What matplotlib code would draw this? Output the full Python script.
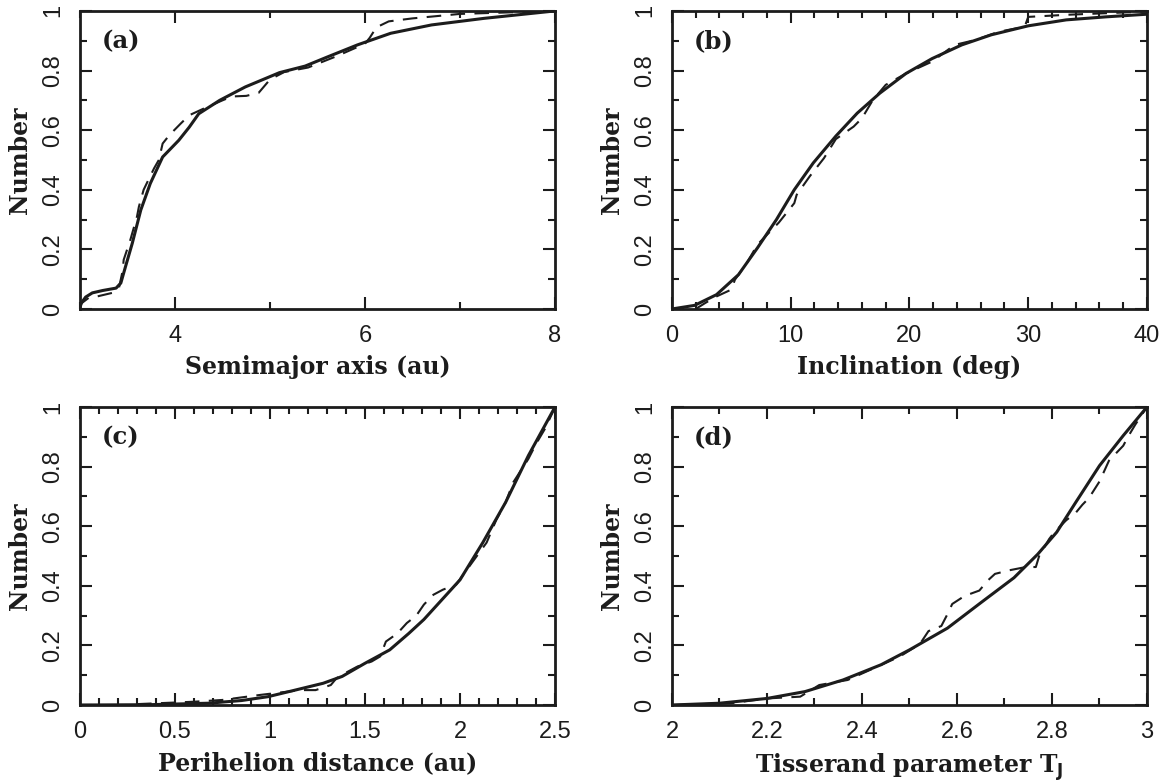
import numpy as np
import matplotlib
matplotlib.use('Agg')
import matplotlib.pyplot as plt
from matplotlib.ticker import MultipleLocator, FuncFormatter

# (a) semimajor axis
a_sol_x = [3.0, 3.06, 3.13, 3.24, 3.38, 3.43, 3.48, 3.55, 3.64, 3.74, 3.87, 3.94,
           4.04, 4.15, 4.25, 4.47, 4.74, 5.1, 5.37, 5.6, 5.92, 6.27, 6.7, 7.25, 8.0]
a_sol_y = [0.014, 0.04, 0.054, 0.062, 0.07, 0.087, 0.143, 0.22, 0.332, 0.421, 0.51, 0.533,
           0.566, 0.61, 0.655, 0.70, 0.745, 0.793, 0.815, 0.845, 0.886, 0.925, 0.953, 0.975, 1.0]
a_das_x = [3.0, 3.02, 3.09, 3.18, 3.34, 3.41, 3.45, 3.46, 3.53, 3.60, 3.62, 3.67, 3.72,
           3.78, 3.83, 3.87, 3.94, 4.06, 4.15, 4.3, 4.5, 4.6, 4.75, 4.88, 5.0, 5.15, 5.4,
           5.7, 6.0, 6.05, 6.12, 6.25, 6.5, 7.0, 8.0]
a_das_y = [0.0, 0.02, 0.037, 0.042, 0.054, 0.07, 0.13, 0.165, 0.232, 0.31, 0.343, 0.40, 0.433,
           0.472, 0.50, 0.555, 0.583, 0.622, 0.65, 0.672, 0.70, 0.713, 0.715, 0.725, 0.77, 0.795, 0.81,
           0.848, 0.89, 0.91, 0.945, 0.965, 0.975, 0.99, 1.0]

# (b) inclination
b_sol_x = [0, 1.9, 3.75, 5.6, 7.2, 8.8, 10.3, 11.9, 13.8, 15.6, 17.5, 19.7, 21.9,
           24.4, 26.9, 30, 33.2, 36.5, 40]
b_sol_y = [0, 0.012, 0.048, 0.115, 0.205, 0.30, 0.40, 0.49, 0.58, 0.657, 0.724, 0.79, 0.84,
           0.886, 0.92, 0.95, 0.97, 0.98, 0.989]
b_das_x = [2.0, 2.8, 3.75, 5.0, 5.3, 6.3, 7.2, 9.0, 10.3, 10.5, 11.6, 12.8, 13.8, 15.3, 16.0,
           16.9, 18.0, 19.7, 21.9, 23.8, 25.6, 27.5, 29.7, 30.0, 33.2, 36.3, 40]
b_das_y = [0.0, 0.02, 0.042, 0.065, 0.098, 0.154, 0.216, 0.29, 0.355, 0.383, 0.445, 0.506, 0.57,
           0.612, 0.64, 0.70, 0.752, 0.79, 0.83, 0.886, 0.903, 0.93, 0.947, 0.98, 0.987, 0.992, 0.998]

# (c) perihelion distance
c_sol_x = [0, 0.36, 0.675, 0.85, 0.99, 1.1, 1.28, 1.38, 1.5, 1.63, 1.73, 1.81, 1.89,
           2.0, 2.12, 2.24, 2.36, 2.5]
c_sol_y = [0, 0.001, 0.006, 0.015, 0.028, 0.045, 0.073, 0.096, 0.14, 0.185, 0.24, 0.287, 0.343,
           0.42, 0.545, 0.68, 0.837, 1.0]
c_das_x = [0.3, 0.6, 0.75, 0.95, 1.16, 1.24, 1.32, 1.35, 1.41, 1.46, 1.535, 1.58, 1.61, 1.67,
           1.72, 1.77, 1.81, 1.86, 1.91, 1.98, 2.02, 2.05, 2.1, 2.14, 2.19, 2.24, 2.28, 2.36,
           2.4, 2.45, 2.5]
c_das_y = [0.003, 0.011, 0.017, 0.034, 0.05, 0.05, 0.067, 0.09, 0.112, 0.129, 0.146, 0.163, 0.213,
           0.24, 0.275, 0.30, 0.337, 0.37, 0.387, 0.404, 0.44, 0.466, 0.51, 0.545, 0.62, 0.68,
           0.747, 0.826, 0.876, 0.93, 1.0]

# (d) Tisserand parameter
d_sol_x = [2.0, 2.1, 2.2, 2.28, 2.36, 2.44, 2.5, 2.58, 2.65, 2.72, 2.77, 2.81, 2.85,
           2.9, 2.95, 3.0]
d_sol_y = [0, 0.006, 0.022, 0.045, 0.084, 0.135, 0.185, 0.258, 0.343, 0.427, 0.506, 0.58,
           0.68, 0.803, 0.904, 1.0]
d_das_x = [2.0, 2.125, 2.2, 2.27, 2.31, 2.37, 2.48, 2.507, 2.52, 2.54, 2.567, 2.58, 2.59,
           2.616, 2.647, 2.665, 2.68, 2.71, 2.745, 2.766, 2.773, 2.794, 2.805, 2.83, 2.85,
           2.864, 2.878, 2.9, 2.92, 2.95, 2.96, 2.975, 3.0]
d_das_y = [0, 0.006, 0.022, 0.028, 0.067, 0.084, 0.163, 0.19, 0.2, 0.248, 0.265, 0.305, 0.339,
           0.366, 0.384, 0.418, 0.44, 0.452, 0.463, 0.463, 0.5, 0.557, 0.58, 0.62, 0.645,
           0.672, 0.695, 0.75, 0.82, 0.87, 0.90, 0.94, 1.0]

panels = [
    ('(a)', 'Semimajor axis (au)', (3, 8), 2, 1, a_sol_x, a_sol_y, a_das_x, a_das_y),
    ('(b)', 'Inclination (deg)', (0, 40), 10, 2, b_sol_x, b_sol_y, b_das_x, b_das_y),
    ('(c)', 'Perihelion distance (au)', (0, 2.5), 0.5, 0.1, c_sol_x, c_sol_y, c_das_x, c_das_y),
    ('(d)', r'Tisserand parameter T$_{\mathbf{J}}$', (2, 3), 0.2, 0.1, d_sol_x, d_sol_y, d_das_x, d_das_y),
]

boxes = [
    [0.0686, 0.6044, 0.4074, 0.3816],
    [0.5763, 0.6044, 0.4074, 0.3816],
    [0.0686, 0.0973, 0.4074, 0.3816],
    [0.5763, 0.0973, 0.4074, 0.3816],
]

ink = '#1c1c1c'
tick_font = 'Liberation Sans'
lab_font = 'DejaVu Serif'


def fmt(v, pos):
    return '%g' % round(v, 3)


fig = plt.figure(figsize=(11.66, 7.81), dpi=100)
for box, p in zip(boxes, panels):
    tag, xlabel, xlim, xmaj, xmin, sx, sy, dx, dy = p
    ax = fig.add_axes(box)
    ax.plot(sx, sy, color=ink, lw=2.2, solid_joinstyle='round')
    ax.plot(dx, dy, color=ink, lw=1.5, linestyle=(0, (7, 4.5)))
    ax.set_xlim(xlim)
    ax.set_ylim(0, 1)
    ax.xaxis.set_major_locator(MultipleLocator(xmaj))
    ax.xaxis.set_minor_locator(MultipleLocator(xmin))
    ax.yaxis.set_major_locator(MultipleLocator(0.2))
    ax.yaxis.set_minor_locator(MultipleLocator(0.1))
    ax.xaxis.set_major_formatter(FuncFormatter(fmt))
    ax.yaxis.set_major_formatter(FuncFormatter(fmt))
    ax.tick_params(which='both', direction='in', top=True, right=True, width=1.5,
                   color=ink, labelcolor=ink)
    ax.tick_params(which='major', length=8.5, labelsize=17, pad=11.5)
    ax.tick_params(which='minor', length=5)
    for lbl in ax.get_xticklabels() + ax.get_yticklabels():
        lbl.set_fontfamily(tick_font)
    for lbl in ax.get_yticklabels():
        lbl.set_rotation(90)
        lbl.set_va('center')
    for s in ax.spines.values():
        s.set_linewidth(2.0)
        s.set_color(ink)
    ax.set_xlabel(xlabel, fontsize=17, fontweight='bold', family=lab_font, color=ink)
    ax.set_ylabel('Number', fontsize=17, fontweight='bold', family=lab_font, color=ink)
    ax.xaxis.set_label_coords(0.5, -0.155)
    ax.yaxis.set_label_coords(-0.10, 0.5)
    ax.text(0.046, 0.9, tag, transform=ax.transAxes, fontsize=17.5, fontweight='bold',
            family=lab_font, va='center', ha='left', color=ink)

fig.savefig('out.png', dpi=100)
